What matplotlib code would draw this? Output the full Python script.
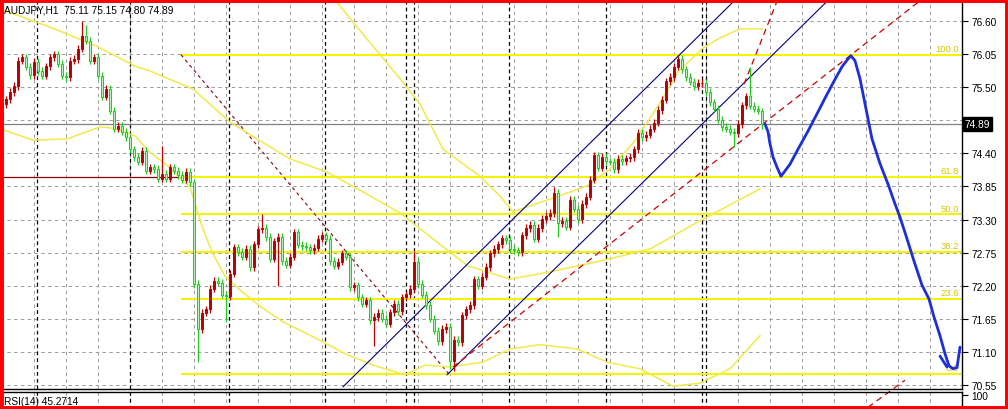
import matplotlib
matplotlib.use('Agg')
import matplotlib.pyplot as plt
import matplotlib.patches as patches
import matplotlib.transforms as mtransforms

plt.rcParams['font.family'] = ['Liberation Sans', 'DejaVu Sans']

# ---- price data (H1 bars, open = previous close) ----
first_open = 75.01
closes = [75.22, 75.30, 75.42, 75.52, 75.94, 76.00, 75.84, 75.70, 75.92, 75.77,
          75.69, 75.85, 76.00, 76.05, 75.89, 75.69, 75.67, 75.94, 75.97, 76.14,
          76.35, 76.27, 75.94, 76.00, 75.69, 75.34, 75.47, 75.11, 74.81, 74.86,
          74.76, 74.67, 74.47, 74.34,
          74.26, 74.44, 74.11, 74.17, 74.14, 73.98, 74.06, 73.98, 74.17, 74.11,
          74.04, 73.96, 74.09, 73.92, 72.23, 71.48, 71.75, 71.81, 72.15, 72.28,
          72.25, 72.05, 72.03, 72.40, 72.84, 72.76, 72.68, 72.81, 72.51, 72.89, 73.14,
          73.16, 73.01, 72.65, 72.94, 73.01, 72.61, 72.55, 72.68, 73.09, 72.88,
          72.86, 72.84, 72.79, 72.83, 72.98, 73.04, 72.98, 72.61, 72.53, 72.60,
          72.74, 72.68, 72.18, 72.21, 72.01, 71.90, 71.96, 71.63, 71.68, 71.75, 71.65,
          71.57, 71.76, 71.90, 71.78, 72.01, 72.06, 72.15, 72.60, 72.23, 72.05,
          71.88, 71.65, 71.45, 71.28, 71.48, 71.52, 70.95, 71.30, 71.26, 71.71,
          71.81, 71.88, 72.31, 72.20, 72.35, 72.51, 72.74, 72.81, 72.89, 72.99, 72.96, 72.81,
          72.79, 72.76, 73.04, 73.16, 73.21, 72.98, 73.16, 73.31, 73.36, 73.41,
          73.74, 73.24, 73.28, 73.18, 73.63, 73.48, 73.31, 73.56, 73.68, 73.96,
          74.37, 74.16, 74.34, 74.27, 74.26, 74.14, 74.31, 74.27, 74.32, 74.34, 74.47,
          74.74, 74.67, 74.71, 74.81, 74.91, 75.12, 75.29, 75.60, 75.67, 75.84,
          75.97, 75.80, 75.67, 75.59, 75.52, 75.57, 75.57, 75.42, 75.25, 75.14,
          74.96, 74.84, 74.81, 74.76, 74.74, 74.89, 75.20, 75.35, 75.19, 75.14, 75.11, 74.89]
# wicks that stand out (bar index -> price), the rest get a short wick
highs = {20: 76.60, 21: 76.53, 40: 74.52, 65: 73.39, 103: 72.78, 138: 73.84,
         169: 76.02, 187: 75.84, 190: 75.15}
lows = {49: 70.93, 56: 71.60, 69: 72.20, 93: 71.20, 112: 70.82, 113: 70.78,
        139: 73.01, 183: 74.51, 190: 74.80}
wick = 0.06

price_ticks = [76.60, 76.05, 75.50, 74.95, 74.40, 73.85, 73.30, 72.75, 72.20, 71.65, 71.10, 70.55]
last_price = 74.89

# fibo retracement
fib_low, fib_high = 70.73, 76.04
fib_levels = [0.0, 23.6, 38.2, 50.0, 61.8, 100.0]
fib_start = 44.75
fib_end = 111.75

# bands (bar, price)
band_a_x = [-0.5, 12, 23.75, 33.25, 37, 47.75, 57, 63.75, 72, 81.25, 90.25, 99.5, 110, 116.5, 127, 137, 149.5, 162, 174.5, 189.5]
band_a_y = [76.80, 76.50, 76.18, 75.85, 75.77, 75.47, 74.92, 74.64, 74.31, 74.09, 73.76, 73.41, 72.86, 72.53, 72.31, 72.43, 72.61, 72.81, 73.28, 73.81]
band_b_x = [-0.5, 7.75, 16.25, 24.5, 28.75, 33.25, 37, 41.5, 47, 50, 52.5, 55.75, 60, 64.5, 70.25, 78.75, 85.75, 93.25, 100.75, 105.75, 112, 120.25, 127, 134.5, 143.75, 151.25, 159.5, 167.75, 174.5, 182, 189.5]
band_b_y = [74.81, 74.62, 74.64, 74.84, 74.81, 74.69, 74.42, 74.19, 73.84, 73.19, 72.76, 72.36, 72.10, 71.86, 71.60, 71.32, 71.07, 70.87, 70.72, 70.88, 70.85, 70.93, 71.15, 71.22, 71.15, 70.93, 70.82, 70.53, 70.58, 70.82, 71.37]
band_c_x = [79.5, 83, 91.25, 99.5, 104.5, 110.25, 119.5, 124.5, 127.75, 137, 146.25, 152, 158.25, 164, 169, 175, 179, 184.5, 190]
band_c_y = [77.22, 76.97, 76.30, 75.64, 75.22, 74.47, 74.02, 73.69, 73.43, 73.64, 73.86, 74.14, 74.61, 75.19, 75.75, 76.14, 76.30, 76.47, 76.47]

# channel lines (bar, price)
chan1 = ([85.25, 187.25], [70.52, 77.21])
chan2 = ([111.25, 210.75], [70.72, 77.22])
trend_red = ([112.75, 232.25], [70.85, 77.08])
trend_steep = ([185.5, 194], [75.55, 76.97])
trend_low = ([216.5, 225.75], [70.18, 70.63])

# hand drawn forecast (bar, price)
draw1_x = [190.75, 191.5, 192, 192.75, 193.75, 194.75, 197, 199, 201.5, 204, 206, 208, 210, 211.5, 212.25]
draw1_y = [74.89, 74.76, 74.56, 74.34, 74.17, 74.02, 74.22, 74.47, 74.77, 75.09, 75.35, 75.60, 75.84, 75.97, 76.02]
draw2_x = [212.25, 213.25, 214.5, 216, 217.5, 219.5, 221.5, 223.25, 224.5, 226.25, 228, 230, 231.75, 233, 234.5, 235.75, 236.75, 237.75, 238.75, 239.5]
draw2_y = [76.02, 75.94, 75.64, 75.14, 74.64, 74.23, 73.89, 73.56, 73.34, 72.98, 72.61, 72.21, 71.98, 71.68, 71.37, 71.07, 70.87, 70.82, 70.84, 71.18]
hook_x = [234.5, 236.25]
hook_y = [71.03, 70.85]

# ---- figure ----
W, H = 1008, 410
fig = plt.figure(figsize=(W / 100, H / 100), dpi=100)
fig.patch.set_facecolor('white')

ax_right = 962
ax = fig.add_axes([0, (H - 389.5) / H, ax_right / W, 389.5 / H])
ax.set_xlim(-0.5, 240)
ax.set_ylim(70.492, 76.966)
ax.set_facecolor('white')
for s in ['left', 'top']:
    ax.spines[s].set_visible(False)
ax.spines['right'].set_linewidth(1.0)
ax.spines['bottom'].set_linewidth(1.0)
ax.set_xticks([])
ax.yaxis.tick_right()
ax.set_yticks(price_ticks)
# the 74.95 label sits under the last price box
ax.set_yticklabels(['' if p == 74.95 else '%.2f' % p for p in price_ticks])
ax.tick_params(axis='y', direction='out', length=4, width=0.8, labelsize=7.3, pad=3, colors='black')

grid_dash = (0, (3.5, 3.5))
for p in price_ticks:
    ax.axhline(p, color='#9a9a9a', lw=0.7, ls=grid_dash, zorder=0.5)
grid_bars = [8 * k for k in range(1, 30)]
separators = [8.75, 32, 56.75, 80.75, 101, 103, 126.75, 151, 175, 176]
for b in grid_bars:
    ax.axvline(b, color='#9a9a9a', lw=0.7, ls=grid_dash, zorder=0.5)
for b in separators:
    ax.axvline(b, color='black', lw=0.9, ls=(0, (3, 2.5)), zorder=0.6)

ax.axhline(last_price, color='#808080', lw=0.9, zorder=0.7)

# fibo lines
fib_prices = [fib_low + lv / 100 * (fib_high - fib_low) for lv in fib_levels]
for lv, p in zip(fib_levels, fib_prices):
    ax.plot([fib_start, 240], [p, p], color='#f4f400', lw=1.5, zorder=1, solid_capstyle='butt')
    ax.text(239.3, p + 0.03, '%.1f' % lv, color='#d6c400', fontsize=6.8, ha='right', va='bottom', zorder=1.1)
ax.plot([-0.5, fib_start], [fib_prices[4], fib_prices[4]], color='#8b0000', lw=0.9, zorder=1)
ax.plot([fib_start, fib_end], [fib_high, fib_low], color='#8b0000', lw=0.8, ls=(0, (3, 3)), zorder=1.2)

# bands
for bx, by in [(band_a_x, band_a_y), (band_b_x, band_b_y), (band_c_x, band_c_y)]:
    ax.plot(bx, by, color='#f0ea4a', lw=1.1, zorder=1.3)

# channel
ax.plot(*chan1, color='#000080', lw=0.8, zorder=2)
ax.plot(*chan2, color='#000080', lw=0.8, zorder=2)
ax.plot(*trend_red, color='#cc0000', lw=0.9, ls=(0, (5, 3.5)), zorder=2)
ax.plot(*trend_steep, color='#cc0000', lw=0.9, ls=(0, (5, 3.5)), zorder=2)

# candles
bw = 0.7
opens = [first_open] + closes[:-1]
opens[-1] = 75.11
for i, (o, c) in enumerate(zip(opens, closes)):
    hi = highs.get(i, max(o, c) + wick)
    lo = lows.get(i, min(o, c) - wick)
    if c >= o:
        edge, face = '#c00000', '#b00000'
    else:
        edge, face = '#1ecb1e', '#b8f5b8'
    ax.vlines(i, lo, hi, color=edge, lw=0.9, zorder=3)
    ax.add_patch(patches.Rectangle((i - bw / 2, min(o, c)), bw, max(abs(c - o), 0.008),
                                   facecolor=face, edgecolor=edge, lw=0.7, zorder=4))

# hand drawing
for dx, dy in [(draw1_x, draw1_y), (draw2_x, draw2_y), (hook_x, hook_y)]:
    ax.plot(dx, dy, color='#1c2fd8', lw=2.0, solid_capstyle='round', solid_joinstyle='round', zorder=5)

# texts
ax.text(4 / ax_right, 0.985, 'AUDJPY,H1  75.11 75.15 74.80 74.89', transform=ax.transAxes,
        fontsize=7.3, ha='left', va='top', color='black', zorder=6)
trans = mtransforms.blended_transform_factory(ax.transAxes, ax.transData)
ax.text(1.003, last_price, '74.89', transform=trans, fontsize=7.3, color='white', ha='left', va='center',
        bbox=dict(boxstyle='square,pad=0.18', facecolor='black', edgecolor='black'), zorder=10, clip_on=False)

# RSI strip
ax2 = fig.add_axes([0, 0, ax_right / W, (H - 392.5) / H])
ax2.set_facecolor('none')
ax2.set_xlim(-0.5, 240)
for s in ['left', 'bottom']:
    ax2.spines[s].set_visible(False)
ax2.spines['right'].set_linewidth(1.0)
ax2.spines['top'].set_linewidth(1.0)
ax2.set_xticks([])
ax2.yaxis.tick_right()
ax2.set_yticks([100])
ax2.set_yticklabels(['100'])
ax2.tick_params(axis='y', direction='out', length=4, width=0.8, labelsize=7.3, pad=3)
ax2.set_ylim(-10, 130)
for b in grid_bars:
    ax2.axvline(b, color='#9a9a9a', lw=0.7, ls=grid_dash, zorder=0.5)
for b in separators:
    ax2.axvline(b, color='black', lw=0.9, ls=(0, (3, 2.5)), zorder=0.6)
ax2.text(4 / ax_right, 0.45, 'RSI(14) 45.2714', transform=ax2.transAxes, fontsize=7.3, ha='left', va='center')

# short red dashed piece at the lower right runs across the RSI strip
ax.plot(*trend_low, color='#cc0000', lw=0.9, ls=(0, (5, 3.5)), zorder=2, clip_on=False)

fig.add_artist(patches.Rectangle((0, 0), 1, 1, transform=fig.transFigure, fill=False,
                                 edgecolor='#ff0000', lw=5, zorder=100))

fig.savefig('out.png', dpi=100)
